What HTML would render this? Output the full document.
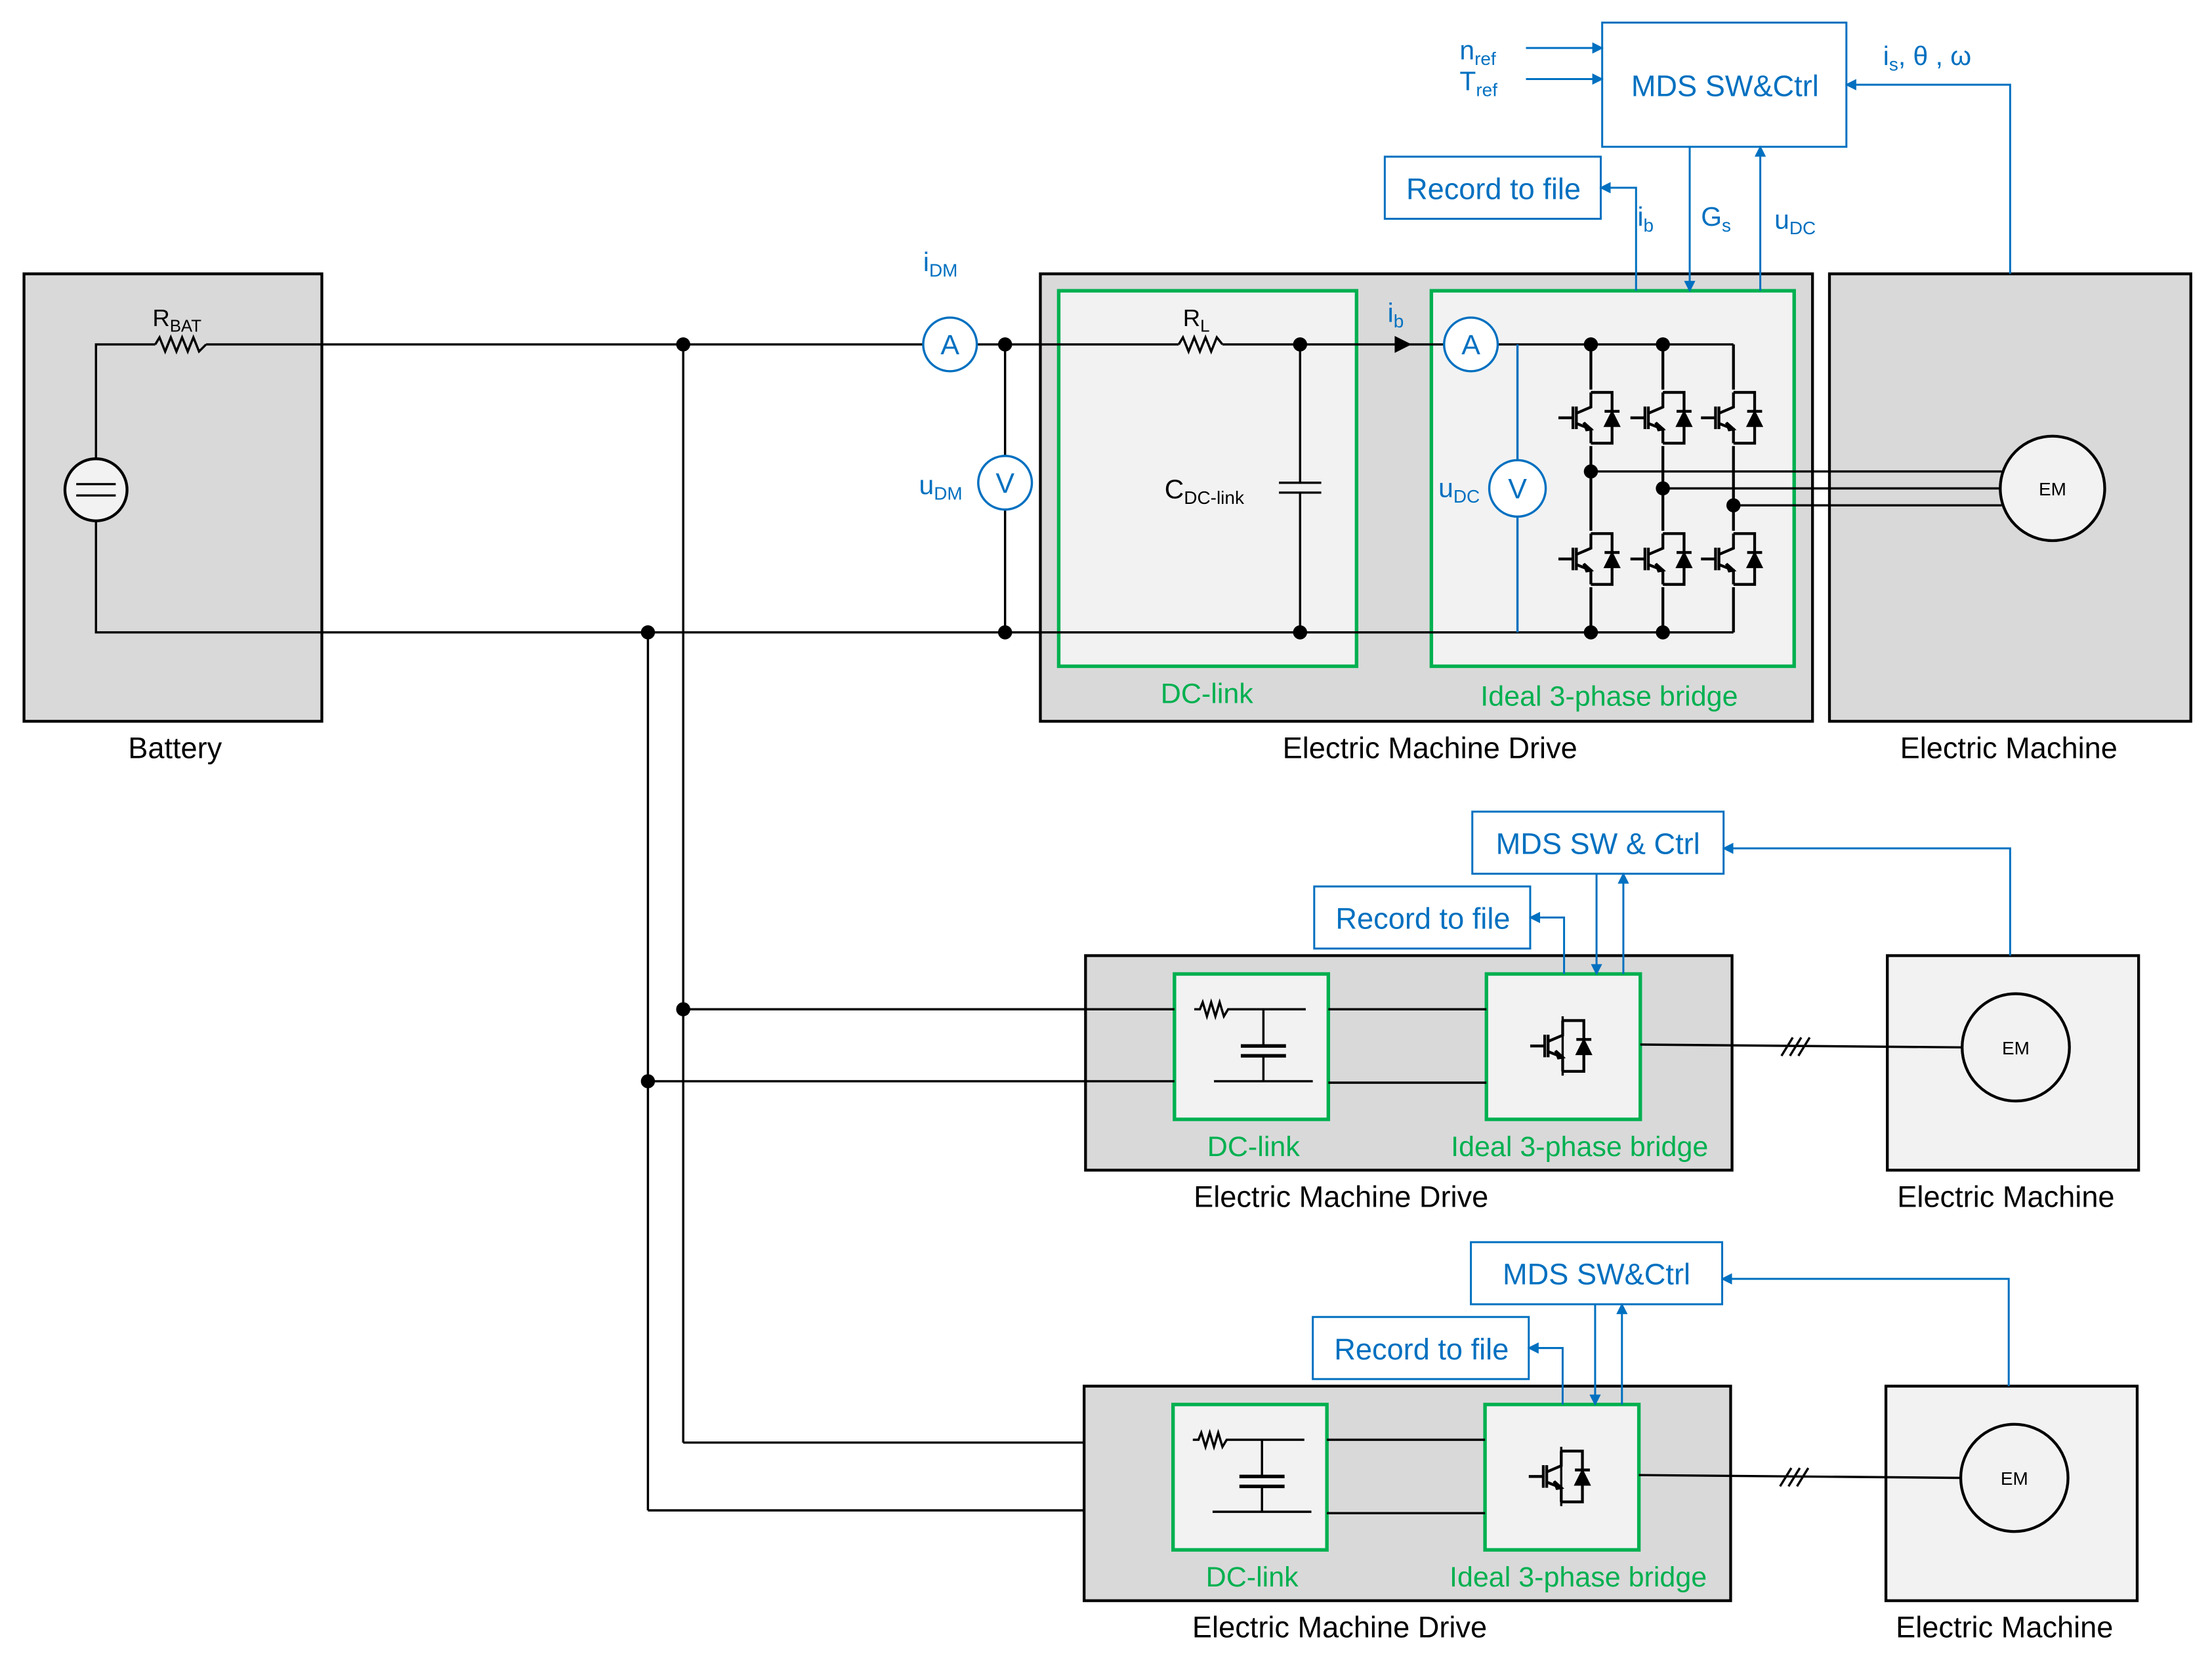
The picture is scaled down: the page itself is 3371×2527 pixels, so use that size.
<!DOCTYPE html>
<html><head><meta charset="utf-8"><style>
html,body{margin:0;padding:0;background:#fff}
svg{display:block}
text{font-family:"Liberation Sans",sans-serif}
</style></head><body>
<svg width="3371" height="2527" viewBox="0 0 1567 1174.6" preserveAspectRatio="none" xmlns="http://www.w3.org/2000/svg">
<defs>
<g id="igbt" fill="none" stroke="#000" stroke-width="2">
<line x1="-23" y1="0" x2="-13" y2="0"/>
<line x1="-12.7" y1="-8" x2="-12.7" y2="8"/>
<line x1="-10.3" y1="-8" x2="-10.3" y2="8"/>
<polyline points="0,-18 0,-7.6 -10.3,-3.2"/>
<polyline points="-10.3,4 0,8 0,18"/>
<polygon points="0,8 -5,3.5 -3,8.5" fill="#000"/>
<polyline points="0,-18 15,-18 15,18 0,18"/>
<polygon points="9.7,6 20.3,6 15,-4.6" fill="#000" stroke-width="1"/>
<line x1="9.7" y1="-4.6" x2="20.3" y2="-4.6"/>
</g>
<marker id="ar" markerWidth="8" markerHeight="8" refX="7" refY="4" orient="auto" markerUnits="userSpaceOnUse"><path d="M0,0 L8,4 L0,8 z" fill="#0070c0"/></marker>
</defs>

<rect x="17" y="194" width="211" height="317" fill="#d9d9d9" stroke="#000" stroke-width="2"/>
<text x="124" y="537" font-size="21" text-anchor="middle">Battery</text>
<circle cx="68" cy="347" r="22" fill="#f2f2f2" stroke="#000" stroke-width="2"/>
<line x1="54" y1="343" x2="82" y2="343" stroke="#000" stroke-width="1.5"/>
<line x1="54" y1="351" x2="82" y2="351" stroke="#000" stroke-width="1.5"/>
<text x="108" y="231" font-size="17">R<tspan font-size="12" dy="4">BAT</tspan></text>

<rect x="737" y="194" width="547" height="317" fill="#d9d9d9" stroke="#000" stroke-width="2"/>
<rect x="750" y="206" width="211" height="266" fill="#f2f2f2" stroke="#00b050" stroke-width="2.5"/>
<rect x="1014" y="206" width="257" height="266" fill="#f2f2f2" stroke="#00b050" stroke-width="2.5"/>
<text x="855" y="498" font-size="20" fill="#00b050" text-anchor="middle">DC-link</text>
<text x="1140" y="500" font-size="20" fill="#00b050" text-anchor="middle">Ideal 3-phase bridge</text>
<text x="1013" y="537" font-size="21" text-anchor="middle">Electric Machine Drive</text>

<rect x="1296" y="194" width="256" height="317" fill="#d9d9d9" stroke="#000" stroke-width="2"/>
<text x="1423" y="537" font-size="21" text-anchor="middle">Electric Machine</text>

<g fill="none" stroke="#000" stroke-width="1.6">
<polyline points="68,325 68,244 110,244"/>
<polyline points="110,244 113,239 117,249 121,239 125,249 129,239 133,249 137,239 141,249 146,244"/>
<line x1="146" y1="244" x2="654" y2="244"/>
<line x1="692" y1="244" x2="835" y2="244"/>
<polyline points="835,244 838,239 842,249 846,239 850,249 854,239 858,249 862,239 866,244"/>
<line x1="866" y1="244" x2="1023" y2="244"/>
<line x1="1061" y1="244" x2="1228" y2="244"/>
<polyline points="68,369 68,448 1228,448"/>
<line x1="712" y1="244" x2="712" y2="323"/>
<line x1="712" y1="361" x2="712" y2="448"/>
<line x1="921" y1="244" x2="921" y2="342"/>
<line x1="921" y1="349" x2="921" y2="448"/>
<line x1="906" y1="342" x2="936" y2="342"/>
<line x1="906" y1="349" x2="936" y2="349"/>
<line x1="1127" y1="244" x2="1127" y2="448" stroke-width="2"/>
<line x1="1178" y1="244" x2="1178" y2="448" stroke-width="2"/>
<line x1="1228" y1="244" x2="1228" y2="448" stroke-width="2"/>
<line x1="1127" y1="334" x2="1418" y2="334"/>
<line x1="1178" y1="346" x2="1417" y2="346"/>
<line x1="1228" y1="358" x2="1418" y2="358"/>
<line x1="484" y1="244" x2="484" y2="1022"/>
<line x1="459" y1="448" x2="459" y2="1070"/>
</g>
<g fill="#f2f2f2">
<rect x="1120" y="276" width="32" height="40"/><rect x="1171" y="276" width="32" height="40"/><rect x="1221" y="276" width="32" height="40"/>
<rect x="1120" y="376" width="32" height="40"/><rect x="1171" y="376" width="32" height="40"/><rect x="1221" y="376" width="32" height="40"/>
</g>
<use href="#igbt" x="1127" y="296"/><use href="#igbt" x="1178" y="296"/><use href="#igbt" x="1228" y="296"/>
<use href="#igbt" x="1127" y="396"/><use href="#igbt" x="1178" y="396"/><use href="#igbt" x="1228" y="396"/>

<g fill="#000">
<circle cx="484" cy="244" r="5"/><circle cx="459" cy="448" r="5"/>
<circle cx="712" cy="244" r="5"/><circle cx="712" cy="448" r="5"/>
<circle cx="921" cy="244" r="5"/><circle cx="921" cy="448" r="5"/>
<circle cx="1127" cy="244" r="5"/><circle cx="1178" cy="244" r="5"/>
<circle cx="1127" cy="448" r="5"/><circle cx="1178" cy="448" r="5"/>
<circle cx="1127" cy="334" r="5"/><circle cx="1178" cy="346" r="5"/><circle cx="1228" cy="358" r="5"/>
<circle cx="484" cy="715" r="5"/><circle cx="459" cy="766" r="5"/>
<polygon points="988,238 1000,244 988,250"/>
</g>
<circle cx="1454" cy="346" r="37" fill="#f2f2f2" stroke="#000" stroke-width="2"/>
<text x="1454" y="351" font-size="13" text-anchor="middle">EM</text>
<text x="838" y="231" font-size="17">R<tspan font-size="12" dy="4">L</tspan></text>
<text x="825" y="353" font-size="19">C<tspan font-size="13" dy="4">DC-link</tspan></text>

<g fill="#fff" stroke="#0070c0" stroke-width="1.6">
<circle cx="673" cy="244" r="19"/><circle cx="712" cy="342" r="19"/>
<circle cx="1042" cy="244" r="19"/>
<line x1="1075" y1="244" x2="1075" y2="326"/><line x1="1075" y1="366" x2="1075" y2="448"/>
<circle cx="1075" cy="346" r="20"/>
</g>
<g fill="#0070c0" font-size="20" text-anchor="middle">
<text x="673" y="251">A</text><text x="712" y="349">V</text>
<text x="1042" y="251">A</text><text x="1075" y="353">V</text>
</g>
<g fill="#0070c0" font-size="19">
<text x="654" y="192">i<tspan font-size="13" dy="4">DM</tspan></text>
<text x="651" y="350">u<tspan font-size="13" dy="4">DM</tspan></text>
<text x="983" y="228">i<tspan font-size="13" dy="4">b</tspan></text>
<text x="1019" y="352">u<tspan font-size="13" dy="4">DC</tspan></text>
<text x="1034" y="42">n<tspan font-size="13" dy="4">ref</tspan></text>
<text x="1034" y="64">T<tspan font-size="13" dy="4">ref</tspan></text>
<text x="1160" y="160">i<tspan font-size="13" dy="4">b</tspan></text>
<text x="1205" y="160">G<tspan font-size="13" dy="4">s</tspan></text>
<text x="1257" y="162">u<tspan font-size="13" dy="4">DC</tspan></text>
<text x="1334" y="46">i<tspan font-size="13" dy="4">s</tspan><tspan dy="-4">, θ , ω</tspan></text>
</g>

<g fill="#fff" stroke="#0070c0" stroke-width="1.4">
<rect x="1135" y="16" width="173" height="88"/>
<rect x="981" y="111" width="153" height="44"/>
</g>
<g fill="none" stroke="#0070c0" stroke-width="1.4" marker-end="url(#ar)">
<line x1="1081" y1="34" x2="1135" y2="34"/>
<line x1="1081" y1="56" x2="1135" y2="56"/>
<polyline points="1159,206 1159,133 1134,133"/>
<line x1="1197" y1="104" x2="1197" y2="206"/>
<line x1="1247" y1="206" x2="1247" y2="104"/>
<polyline points="1424,194 1424,60 1308,60"/>
</g>
<g fill="#0070c0" font-size="21" text-anchor="middle">
<text x="1222" y="68">MDS SW&amp;Ctrl</text>
<text x="1058" y="141">Record to file</text>
</g>

<g id="row2">
<rect x="769" y="677" width="458" height="152" fill="#d9d9d9" stroke="#000" stroke-width="2"/>
<rect x="832" y="690" width="109" height="103" fill="#f2f2f2" stroke="#00b050" stroke-width="2.5"/>
<rect x="1053" y="690" width="109" height="103" fill="#f2f2f2" stroke="#00b050" stroke-width="2.5"/>
<rect x="1337" y="677" width="178" height="152" fill="#f2f2f2" stroke="#000" stroke-width="2"/>
<g fill="none" stroke="#000" stroke-width="1.6">
<line x1="941" y1="715" x2="1053" y2="715"/><line x1="941" y1="767" x2="1053" y2="767"/>
<polyline points="846,715 850,715 852,710 855,720 858,710 861,720 864,710 867,720 870,715 925,715"/>
<line x1="895" y1="715" x2="895" y2="741"/><line x1="895" y1="748" x2="895" y2="766"/>
<line x1="879" y1="741" x2="911" y2="741" stroke-width="2.5"/><line x1="879" y1="748" x2="911" y2="748" stroke-width="2.5"/>
<line x1="860" y1="766" x2="930" y2="766"/>
<line x1="1107" y1="720" x2="1107" y2="762"/>
<line x1="1162" y1="740" x2="1390" y2="742"/>
<line x1="1262" y1="748" x2="1270" y2="735"/><line x1="1268" y1="748" x2="1276" y2="735"/><line x1="1274" y1="748" x2="1282" y2="735"/>
</g>
<use href="#igbt" x="1107" y="741"/>
<circle cx="1428" cy="742" r="38" fill="#f2f2f2" stroke="#000" stroke-width="2"/>
<text x="1428" y="747" font-size="13" text-anchor="middle">EM</text>
<text x="888" y="819" font-size="20" fill="#00b050" text-anchor="middle">DC-link</text>
<text x="1119" y="819" font-size="20" fill="#00b050" text-anchor="middle">Ideal 3-phase bridge</text>
<text x="950" y="855" font-size="21" text-anchor="middle">Electric Machine Drive</text>
<text x="1421" y="855" font-size="21" text-anchor="middle">Electric Machine</text>
<g fill="#fff" stroke="#0070c0" stroke-width="1.4">
<rect x="1043" y="575" width="178" height="44"/>
<rect x="931" y="628" width="153" height="44"/>
</g>
<g fill="none" stroke="#0070c0" stroke-width="1.4" marker-end="url(#ar)">
<polyline points="1108,690 1108,650 1084,650"/>
<line x1="1131" y1="619" x2="1131" y2="690"/>
<line x1="1150" y1="690" x2="1150" y2="619"/>
<polyline points="1424,677 1424,601 1221,601"/>
</g>
<text x="1008" y="658" font-size="21" fill="#0070c0" text-anchor="middle">Record to file</text>
</g>
<text x="1132" y="605" font-size="21" fill="#0070c0" text-anchor="middle">MDS SW &amp; Ctrl</text>
<line x1="484" y1="715" x2="832" y2="715" stroke="#000" stroke-width="1.6"/>
<line x1="459" y1="766" x2="832" y2="766" stroke="#000" stroke-width="1.6"/>

<use href="#row2" x="-1" y="305"/>
<rect x="1043" y="881" width="176" height="42" fill="#fff"/>
<text x="1131" y="910" font-size="21" fill="#0070c0" text-anchor="middle">MDS SW&amp;Ctrl</text>
<line x1="484" y1="1022" x2="768" y2="1022" stroke="#000" stroke-width="1.6"/>
<line x1="459" y1="1070" x2="768" y2="1070" stroke="#000" stroke-width="1.6"/>
</svg>
</body></html>
